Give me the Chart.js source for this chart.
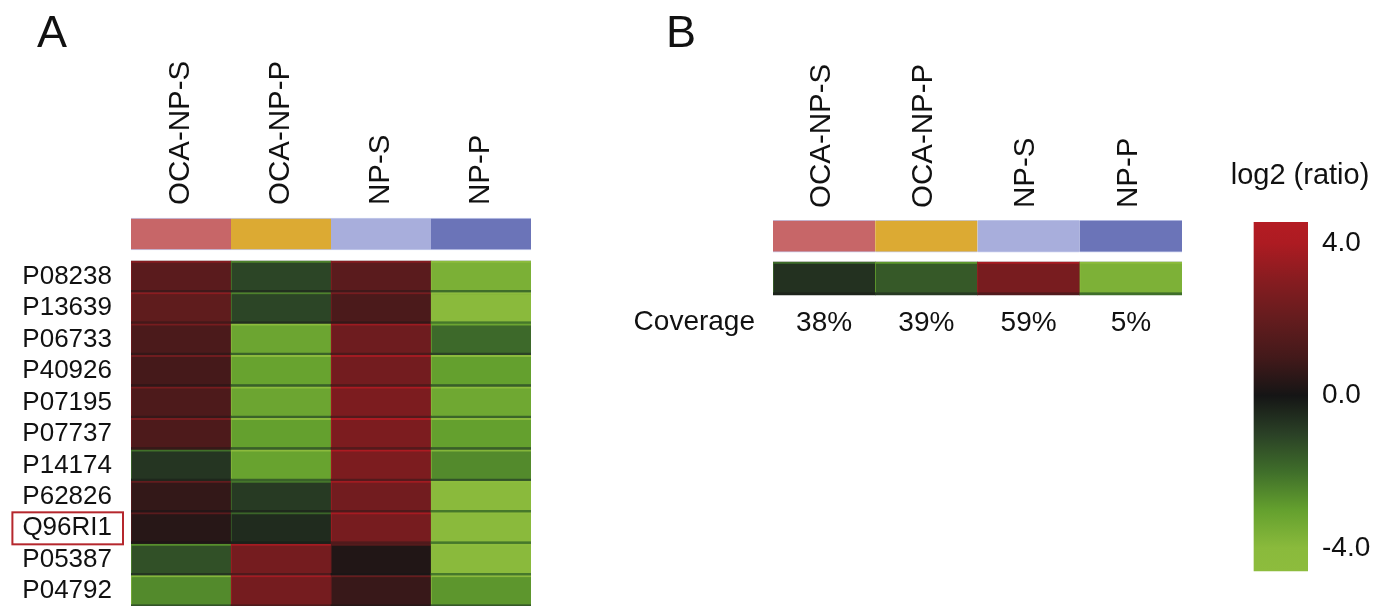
<!DOCTYPE html>
<html>
<head>
<meta charset="utf-8">
<script src="https://cdn.jsdelivr.net/npm/chart.js@4.4.0/dist/chart.umd.min.js"></script>
<style>
body { margin: 0; background: #fff; width: 1373px; height: 606px; overflow: hidden; position: relative; font-family: "Liberation Sans", Arial, Helvetica, sans-serif; color: #111; }
.box { position: absolute; top: 0; height: 606px; }
.panel { position: absolute; top: 9px; font-size: 45px; line-height: 45px; }
</style>
</head>
<body>
<div class="box" style="left:0;width:560px"><canvas id="chartA"></canvas></div>
<div class="box" style="left:560px;width:650px"><canvas id="chartB"></canvas></div>
<div class="box" style="left:1227px;width:146px"><canvas id="chartC"></canvas></div>
<div class="panel" style="left:37px">A</div>
<div class="panel" style="left:666px">B</div>
<script>
// columns and rows
var columns = ['OCA-NP-S', 'OCA-NP-P', 'NP-S', 'NP-P']
var headerColors = ['#c76668', '#dcaa33', '#a8aedc', '#6b74b8']
var proteins = ['P08238', 'P13639', 'P06733', 'P40926', 'P07195', 'P07737', 'P14174', 'P62826', 'Q96RI1', 'P05387', 'P04792']
var highlighted = 'Q96RI1'

// log2 (ratio) per column, one value per protein
var ocaNpS = [1.7, 1.85, 1.25, 1.05, 1.3, 1.3, -0.75, 0.65, 0.4, -1.35, -2.55]
var ocaNpP = [-1.1, -1.1, -3.2, -3.1, -3.2, -3.0, -3.1, -0.85, -0.5, 2.5, 2.5]
var npS = [1.7, 1.25, 2.3, 2.45, 2.7, 2.7, 2.7, 2.4, 2.55, 0.25, 0.75]
var npP = [-3.6, -4.0, -1.9, -3.0, -3.3, -3.0, -2.55, -4.0, -4.0, -4.0, -2.8]

// panel B
var coverageValues = [-0.65, -1.55, 2.6, -3.65]
var coverageLabels = ['38%', '39%', '59%', '5%']

// colour key
var colorStops = [
    [-4.6, '#8dbc3d'], [-4, '#8aba3c'], [-3, '#64a02e'], [-2, '#3f6e2a'], [-1, '#2a4026'],
    [0, '#151515'], [1, '#43191a'], [2, '#641c1e'], [3, '#861c20'], [4, '#ad1b22'], [4.6, '#b41c23']
]
var colorbarTicks = [-4, 0, 4]

Chart.defaults.font.family = '"Liberation Sans", Arial, Helvetica, sans-serif'
Chart.defaults.color = '#111'

function hexToRgb(h) {
    return [1, 3, 5].map(function (i) { return parseInt(h.substr(i, 2), 16) })
}

function colorFor(v) {
    for (var k = 1; k < colorStops.length; k++) {
        var v0 = colorStops[k - 1][0], v1 = colorStops[k][0]
        if (v <= v1 || k === colorStops.length - 1) {
            var t = Math.min(1, Math.max(0, (v - v0) / (v1 - v0)))
            var a = hexToRgb(colorStops[k - 1][1]), b = hexToRgb(colorStops[k][1])
            return 'rgb(' + a.map(function (x, j) { return Math.round(x + (b[j] - x) * t) }).join(',') + ')'
        }
    }
}

function edgeColor(v) { return colorFor(v + Math.sign(v) * 1.3) }
function shadowColor(v) { return colorFor(v * 0.55) }

// one cell row = a shadow bar plus the cell bar drawn on top of it
function cellRow(label, vals, i) {
    return [{
        label: label,
        data: vals.map(function () { return [i, i + 0.92] }),
        backgroundColor: vals.map(colorFor),
        borderColor: vals.map(edgeColor),
        borderWidth: { top: 2, left: 1, right: 0, bottom: 0 },
        borderSkipped: false,
        grouped: false,
        barPercentage: 1,
        categoryPercentage: 1,
        order: 0
    }, {
        label: label + ' shadow',
        data: vals.map(function () { return [i, i + 1] }),
        backgroundColor: vals.map(shadowColor),
        grouped: false,
        barPercentage: 1,
        categoryPercentage: 1,
        order: 1
    }]
}

function headerRow(top, bottom) {
    return {
        label: 'group',
        data: columns.map(function () { return [top, bottom] }),
        backgroundColor: headerColors,
        borderColor: 'rgba(125,140,215,0.45)',
        borderWidth: { top: 1, bottom: 1, left: 0, right: 0 },
        borderSkipped: false,
        grouped: false,
        barPercentage: 1,
        categoryPercentage: 1
    }
}

var noGrid = { display: false, drawTicks: false }
var quiet = { legend: { display: false }, tooltip: { enabled: false } }

// tick labels must not push the plot area in
function fixedWidth(w) {
    return function (s) { s.width = w; s.paddingTop = 0; s.paddingBottom = 0 }
}

// panel A
var datasetsA = [headerRow(-1.365, -0.35)]
proteins.forEach(function (p, i) {
    var vals = [ocaNpS[i], ocaNpP[i], npS[i], npP[i]]
    datasetsA = datasetsA.concat(cellRow(p, vals, i))
})

var highlightBox = {
    id: 'highlightBox',
    afterDraw: function (chart) {
        var y = chart.scales.y
        var i = proteins.indexOf(highlighted)
        var cy = y.getPixelForValue(i + 0.5)
        var ctx = chart.ctx
        ctx.save()
        ctx.font = '26px ' + Chart.defaults.font.family
        var w = ctx.measureText(highlighted).width
        var right = y.right - 19
        ctx.strokeStyle = '#b5272d'
        ctx.lineWidth = 2
        ctx.strokeRect(right - w - 10, cy - 16, w + 21, 32)
        ctx.restore()
    }
}

var chartA = new Chart(document.getElementById('chartA').getContext('2d'), {
    type: 'bar',
    data: { labels: columns, datasets: datasetsA },
    options: {
        responsive: true,
        maintainAspectRatio: false,
        animation: false,
        layout: { autoPadding: false, padding: { left: 0, right: 29, top: 0, bottom: 0 } },
        plugins: quiet,
        scales: {
            x: {
                position: 'top', offset: true, grid: noGrid, border: { display: false },
                ticks: { minRotation: 90, maxRotation: 90, autoSkip: false, padding: 12, labelOffset: 35, font: { size: 29.5 } },
                afterFit: function (s) { s.height = 217 }
            },
            y: {
                type: 'linear', reverse: true, min: -1.4, max: 10.97, grid: noGrid, border: { display: false },
                afterBuildTicks: function (s) { s.ticks = proteins.map(function (p, i) { return { value: i + 0.5 } }) },
                ticks: { autoSkip: false, padding: 19, font: { size: 26 }, callback: function (v, i) { return proteins[i] } },
                afterFit: fixedWidth(131)
            }
        }
    },
    plugins: [highlightBox]
})

// panel B
var datasetsB = [headerRow(-1.27, -0.3)].concat(cellRow('all', coverageValues, 0))

var chartB = new Chart(document.getElementById('chartB').getContext('2d'), {
    type: 'bar',
    data: { labels: columns, datasets: datasetsB },
    options: {
        responsive: true,
        maintainAspectRatio: false,
        animation: false,
        layout: { autoPadding: false, padding: { left: 0, right: 28, top: 0, bottom: 256 } },
        plugins: quiet,
        scales: {
            x: {
                position: 'top', offset: true, grid: noGrid, border: { display: false },
                ticks: { minRotation: 90, maxRotation: 90, autoSkip: false, padding: 12, labelOffset: 33, font: { size: 29.5 } },
                afterFit: function (s) { s.height = 220 }
            },
            x2: {
                type: 'category', labels: coverageLabels, position: 'bottom', offset: true, grid: noGrid, border: { display: false },
                ticks: { autoSkip: false, padding: 6, font: { size: 28 } },
                afterFit: function (s) { s.height = 50 }
            },
            y: {
                type: 'linear', reverse: true, min: -1.27, max: 1.15, grid: noGrid, border: { display: false },
                afterBuildTicks: function (s) { s.ticks = [{ value: 1.83 }] },
                ticks: { autoSkip: false, padding: 18, font: { size: 28 }, callback: function () { return 'Coverage' } },
                afterFit: fixedWidth(213)
            }
        }
    }
})

// colour key
var cbMin = -4.6, cbMax = 4.55

var chartC = new Chart(document.getElementById('chartC').getContext('2d'), {
    type: 'bar',
    data: {
        datasets: [{
            data: [{ x: 2, y: [cbMin, cbMax] }],
            backgroundColor: function (ctx) {
                var chart = ctx.chart
                if (!chart.chartArea) return '#888'
                var y = chart.scales.y
                var g = chart.ctx.createLinearGradient(0, y.getPixelForValue(cbMax), 0, y.getPixelForValue(cbMin))
                colorStops.forEach(function (s) {
                    var off = Math.min(1, Math.max(0, (cbMax - s[0]) / (cbMax - cbMin)))
                    g.addColorStop(off, s[1])
                })
                return g
            },
            barThickness: 54
        }]
    },
    options: {
        responsive: true,
        maintainAspectRatio: false,
        animation: false,
        layout: { autoPadding: false, padding: { left: 0, right: 0, top: 0, bottom: 34 } },
        plugins: {
            legend: { display: false },
            tooltip: { enabled: false },
            title: { display: true, text: 'log2 (ratio)', color: '#111', font: { size: 29, weight: 'normal' }, padding: { top: 159, bottom: 28.2 } }
        },
        scales: {
            x: { type: 'linear', display: false, offset: false, min: 0, max: 3 },
            y: {
                position: 'right', min: -4.63, max: cbMax, grid: noGrid, border: { display: false },
                afterBuildTicks: function (s) { s.ticks = colorbarTicks.map(function (v) { return { value: v } }) },
                ticks: { padding: 14, font: { size: 28 }, callback: function (v) { return v.toFixed(1) } },
                afterFit: fixedWidth(65)
            }
        }
    }
})
</script>
</body>
</html>
